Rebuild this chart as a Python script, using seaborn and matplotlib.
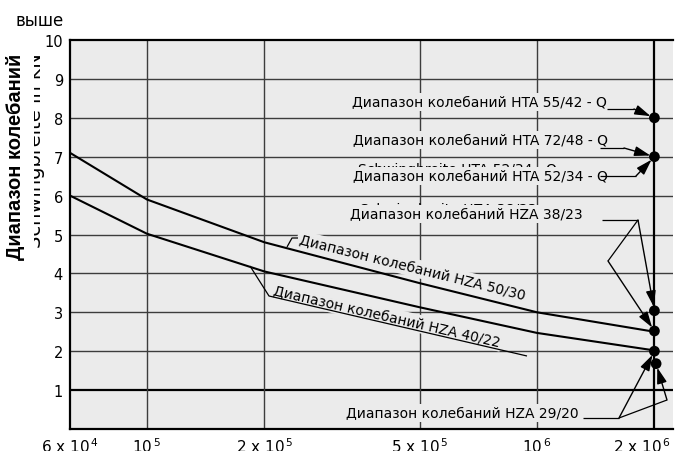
import numpy as np
import pandas as pd
import matplotlib
matplotlib.use("Agg")
import matplotlib.pyplot as plt
import matplotlib.transforms as mtransforms
from matplotlib.ticker import NullLocator, FixedLocator, FixedFormatter
import seaborn as sns

# ---------------- data ----------------
cycles = [6.35e4, 1e5, 2e5, 5e5, 1e6, 2e6]
hza_50_30 = [7.1, 5.9, 4.8, 3.75, 3.0, 2.5]
hza_40_22 = [6.0, 5.02, 4.05, 3.13, 2.47, 2.02]

dot_cycles = [2e6, 2e6, 2e6, 2e6, 2e6, 2.02e6]
dot_values = [8.0, 7.0, 3.04, 2.52, 2.0, 1.68]

x_ticks = [6.35e4, 1e5, 2e5, 5e5, 1e6, 2e6]
x_tick_labels = [r"6 x 10$^{\,4}$", r"10$^{\,5}$", r"2 x 10$^{\,5}$",
                 r"5 x 10$^{\,5}$", r"10$^{\,6}$", r"2 x 10$^{\,6}$"]
y_ticks = [1, 2, 3, 4, 5, 6, 7, 8, 9, 10]
y_tick_labels = [str(v) for v in y_ticks]
x_limits = (6.35e4, 2.232e6)
y_limits = (0, 10)

ru = "Диапазон колебаний"

# ---------------- style ----------------
sns.set_theme(style="white")
plt.rcParams["font.family"] = ["DejaVu Sans"]
plt.rcParams["mathtext.default"] = "regular"
BG = "#ebebeb"
GRID = "#3c3c3c"

W, H = 677, 452
fig = plt.figure(figsize=(W / 100, H / 100), dpi=100)
AX_L, AX_R, AX_T, AX_B = 70, 673, 41, 430
ax = fig.add_axes([AX_L / W, (H - AX_B) / H, (AX_R - AX_L) / W, (AX_B - AX_T) / H])
ax.set_facecolor(BG)


def af(px, py):
    """pixel position in the figure -> axes fraction"""
    return ((px - AX_L) / (AX_R - AX_L), (AX_B - py) / (AX_B - AX_T))


# grid lines
for v in y_ticks[:-1]:
    ax.axhline(v, color="black" if v == 1 else GRID, lw=1.6 if v == 1 else 1.0, zorder=1)
for v in x_ticks[1:]:
    ax.axvline(v, color="black" if v == 2e6 else GRID, lw=1.6 if v == 2e6 else 1.0, zorder=1)

# curves
df = pd.DataFrame({
    "N": cycles * 2,
    "kN": hza_50_30 + hza_40_22,
    "series": ["HZA 50/30"] * len(cycles) + ["HZA 40/22"] * len(cycles),
})
sns.lineplot(data=df, x="N", y="kN", units="series", estimator=None, color="black",
             lw=1.5, ax=ax, zorder=5, legend=False)

dots = pd.DataFrame({"N": dot_cycles, "kN": dot_values})
sns.scatterplot(data=dots, x="N", y="kN", color="black", s=60, edgecolor="none",
                ax=ax, zorder=6, legend=False)

ax.set_xscale("log")
ax.set_xlim(*x_limits)
ax.set_ylim(*y_limits)
ax.autoscale(False)
ax.xaxis.set_major_locator(FixedLocator(x_ticks))
ax.xaxis.set_major_formatter(FixedFormatter(x_tick_labels))
ax.xaxis.set_minor_locator(NullLocator())
ax.set_yticks(y_ticks)
ax.set_yticklabels(y_tick_labels)
ax.tick_params(axis="x", length=0, pad=5, labelsize=11, colors="black")
ax.tick_params(axis="y", length=0, pad=5, labelsize=10.5, colors="black")
ax.set_xlabel("")
ax.set_ylabel("")
for s in ["left", "bottom", "top"]:
    ax.spines[s].set_color("black")
    ax.spines[s].set_linewidth(1.6)
    ax.spines[s].set_zorder(7)
ax.spines["right"].set_visible(False)

# shift the last x tick label a little to the left so it stays inside the image
last = ax.get_xticklabels()[-1]
last.set_transform(last.get_transform() +
                   mtransforms.ScaledTranslation(-12 / 100, 0, fig.dpi_scale_trans))

# ---------------- annotations ----------------
box = dict(facecolor=BG, edgecolor="none", boxstyle="square,pad=0.15")
TXT = dict(transform=ax.transAxes, fontsize=10, color="black", clip_on=False)

# German remnants (partly covered)
ax.text(*af(358, 174), "Schwingbreite HTA 52/34 - Q", ha="left", va="baseline", zorder=3, **TXT)
ax.text(*af(360, 214), "Schwingbreite HZA 38/23", ha="left", va="baseline", zorder=3, **TXT)

ax.text(*af(607, 107), f"{ru} HTA 55/42 - Q", ha="right", va="baseline", zorder=4, bbox=box, **TXT)
ax.text(*af(608, 145), f"{ru} HTA 72/48 - Q", ha="right", va="baseline", zorder=4, bbox=box, **TXT)
ax.text(*af(608, 181), f"{ru} HTA 52/34 - Q", ha="right", va="baseline", zorder=4, bbox=box, **TXT)
ax.text(*af(350, 219), f"{ru} HZA 38/23", ha="left", va="baseline", zorder=4, bbox=box, **TXT)
ax.text(*af(579, 418), f"{ru} HZA 29/20", ha="right", va="baseline", zorder=4, bbox=box, **TXT)
ax.text(*af(298, 244), f"{ru} HZA 50/30", ha="left", va="baseline", rotation=-14,
        rotation_mode="anchor", zorder=4, bbox=box, **TXT)
ax.text(*af(272, 295), f"{ru} HZA 40/22", ha="left", va="baseline", rotation=-13,
        rotation_mode="anchor", zorder=4, bbox=box, **TXT)


def poly(pts):
    xs, ys = zip(*[af(px, py) for px, py in pts])
    ax.plot(xs, ys, transform=ax.transAxes, color="black", lw=0.9, zorder=6,
            clip_on=False, solid_capstyle="butt")


def arrow(start_px, target):
    ax.annotate("", xy=target, xycoords="data", xytext=af(*start_px),
                textcoords="axes fraction",
                arrowprops=dict(arrowstyle="-|>,head_length=0.8,head_width=0.25",
                                color="black", lw=1.0, shrinkA=0, shrinkB=3),
                zorder=6, annotation_clip=False)


poly([(607, 110), (634, 110)])
arrow((634, 110), (dot_cycles[0], dot_values[0]))
poly([(600, 149), (624, 149)])
arrow((624, 149), (dot_cycles[1], dot_values[1]))
poly([(600, 177), (636, 177)])
arrow((636, 177), (dot_cycles[1], dot_values[1]))
poly([(602, 221), (638, 221)])
arrow((638, 221), (dot_cycles[2], dot_values[2]))
poly([(638, 221), (608, 262)])
arrow((608, 262), (dot_cycles[3], dot_values[3]))
poly([(583, 419), (619, 419)])
arrow((619, 419), (dot_cycles[4], dot_values[4]))
poly([(619, 419), (667, 401)])
arrow((667, 401), (dot_cycles[5], dot_values[5]))
poly([(287, 248), (292, 239), (298, 239)])
poly([(250, 267), (269, 297), (527, 357)])

# ---------------- axis label / unit ----------------
fig.text(41 / W, 1 - 151 / H, "Schwingbreite in kN", rotation=90, rotation_mode="anchor",
         ha="center", va="baseline", fontsize=14, color="black", zorder=2)
fig.text(21 / W, 1 - 157 / H, ru, rotation=90, rotation_mode="anchor",
         ha="center", va="baseline", fontsize=14.5, fontweight="bold",
         family=["Liberation Sans", "DejaVu Sans"], color="black", zorder=3,
         bbox=dict(facecolor="white", edgecolor="none", boxstyle="square,pad=0.45"))
fig.text(40 / W, 1 - 21 / H, "выше", ha="center", va="center", fontsize=12, color="black")

fig.savefig("out.png", dpi=100, facecolor="white")
